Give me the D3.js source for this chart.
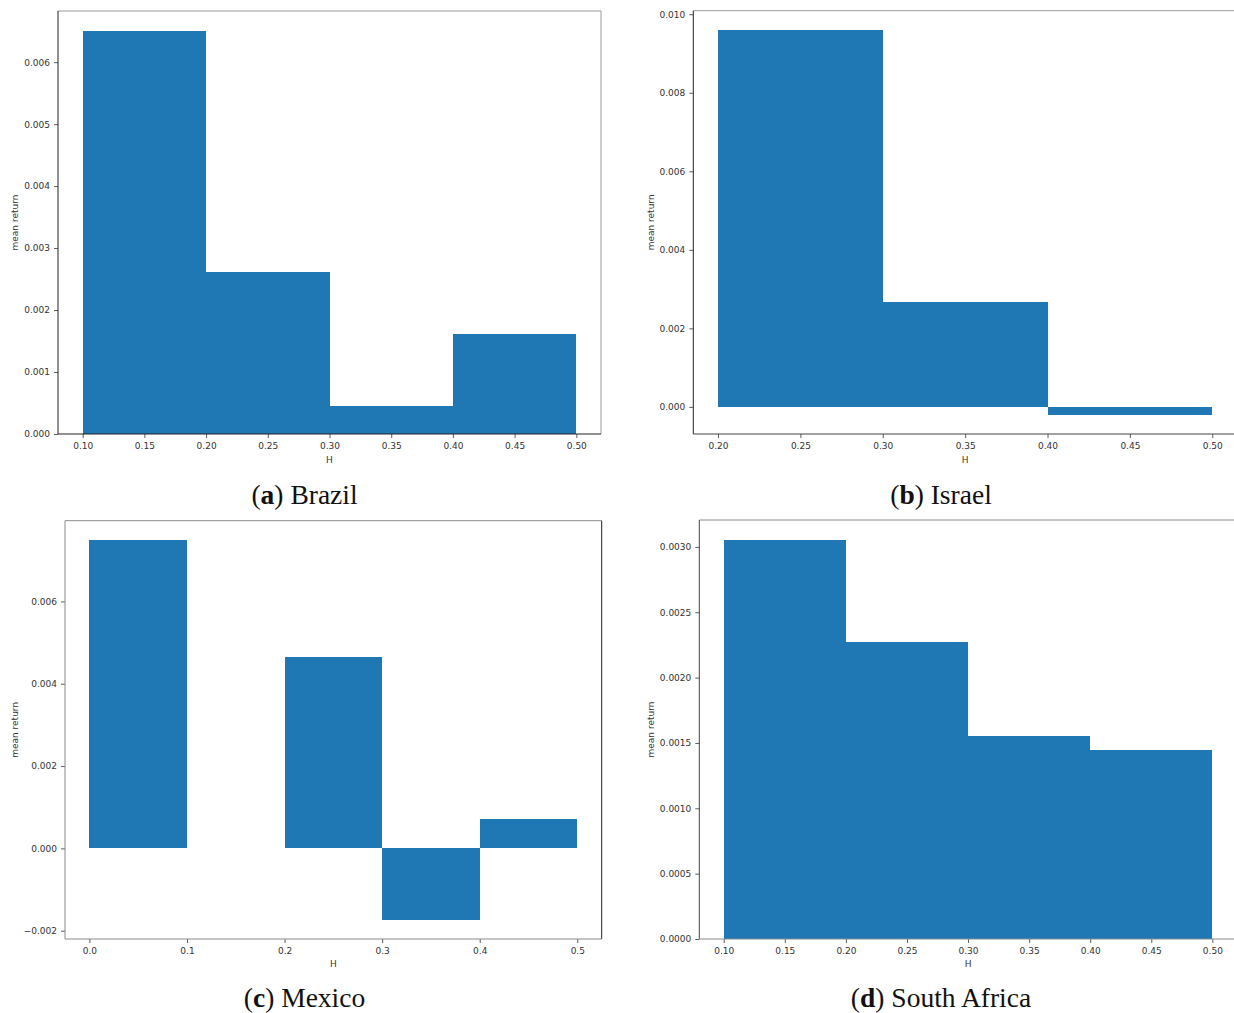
<!DOCTYPE html>
<html>
<head>
<meta charset="utf-8">
<script src="https://cdn.jsdelivr.net/npm/d3@7"></script>
<style>
  html, body { margin: 0; padding: 0; background: #fff; }
  svg { display: block; }
  .tick text { font-family: "DejaVu Sans", sans-serif; font-size: 9px; fill: #333; }
  .axis-label { font-family: "DejaVu Sans", sans-serif; font-size: 9px; fill: #333; }
  .caption { font-family: "Liberation Serif", "Times New Roman", serif; font-size: 27.5px; fill: #111; }
  rect.bar { shape-rendering: crispEdges; }
</style>
</head>
<body>
<svg id="fig" width="1234" height="1013"></svg>
<script>
// Mean return per bin of the Hurst exponent H, one panel per market.
const binWidth = 0.1;

const brazilBins = [0.1, 0.2, 0.3, 0.4];
const brazilReturns = [0.0065, 0.00262, 0.00045, 0.00161];
const brazilXTicks = [0.10, 0.15, 0.20, 0.25, 0.30, 0.35, 0.40, 0.45, 0.50];
const brazilYTicks = [0.000, 0.001, 0.002, 0.003, 0.004, 0.005, 0.006];

const israelBins = [0.2, 0.3, 0.4];
const israelReturns = [0.0096, 0.00266, -0.0002];
const israelXTicks = [0.20, 0.25, 0.30, 0.35, 0.40, 0.45, 0.50];
const israelYTicks = [0.000, 0.002, 0.004, 0.006, 0.008, 0.010];

// the 0.1–0.2 bin holds no observations for Mexico
const mexicoBins = [0.0, 0.1, 0.2, 0.3, 0.4];
const mexicoReturns = [0.0075, null, 0.00464, -0.00174, 0.00071];
const mexicoXTicks = [0.0, 0.1, 0.2, 0.3, 0.4, 0.5];
const mexicoYTicks = [-0.002, 0.000, 0.002, 0.004, 0.006];

const southAfricaBins = [0.1, 0.2, 0.3, 0.4];
const southAfricaReturns = [0.003053, 0.002273, 0.00155, 0.001445];
const southAfricaXTicks = [0.10, 0.15, 0.20, 0.25, 0.30, 0.35, 0.40, 0.45, 0.50];
const southAfricaYTicks = [0.0000, 0.0005, 0.0010, 0.0015, 0.0020, 0.0025, 0.0030];

const panelLetters = ["a", "b", "c", "d"];
const panelNames = ["Brazil", "Israel", "Mexico", "South Africa"];

const xLabel = "H";
const yLabel = "mean return";
const barColor = "#1f77b4";

// Layout of each axes box on the page and the styling of its frame.
const panels = [
  { bins: brazilBins, values: brazilReturns, xTicks: brazilXTicks, yTicks: brazilYTicks,
    xFmt: ".2f", yFmt: ".3f",
    box: { left: 58, top: 11, right: 601, bottom: 434 },
    yLabelX: 18, xLabelY: 463, caption: { x: 304.5, y: 504 },
    spine: { left: "#222", bottom: "#222", top: "#9a9a9a", right: "#9a9a9a" } },
  { bins: israelBins, values: israelReturns, xTicks: israelXTicks, yTicks: israelYTicks,
    xFmt: ".2f", yFmt: ".3f",
    box: { left: 693.3, top: 10.7, right: 1237, bottom: 434 },
    yLabelX: 653.5, xLabelY: 463, caption: { x: 941, y: 504 },
    spine: { left: "#222", bottom: "#444", top: "#9a9a9a", right: "#9a9a9a" } },
  { bins: mexicoBins, values: mexicoReturns, xTicks: mexicoXTicks, yTicks: mexicoYTicks,
    xFmt: ".1f", yFmt: ".3f",
    box: { left: 65, top: 520.7, right: 601.7, bottom: 939 },
    yLabelX: 17.5, xLabelY: 967, caption: { x: 304.5, y: 1007 },
    spine: { left: "#8a8a8a", bottom: "#8a8a8a", top: "#8a8a8a", right: "#222" } },
  { bins: southAfricaBins, values: southAfricaReturns, xTicks: southAfricaXTicks, yTicks: southAfricaYTicks,
    xFmt: ".2f", yFmt: ".4f",
    box: { left: 699.3, top: 520, right: 1236.8, bottom: 939 },
    yLabelX: 654, xLabelY: 967, caption: { x: 941, y: 1007 },
    spine: { left: "#444", bottom: "#8a8a8a", top: "#8a8a8a", right: "#8a8a8a" } }
];

const svg = d3.select("#fig");
const minusFmt = f => v => d3.format(f)(v).replace("-", "\u2212");

panels.forEach((p, i) => {
  const b = p.box;
  // matplotlib-style autoscaling: 5% margins, bars stick to zero
  const xMin = d3.min(p.bins), xMax = d3.max(p.bins) + binWidth;
  const xPad = (xMax - xMin) * 0.05;
  const vals = p.values.filter(v => v != null);
  const vMin = Math.min(0, d3.min(vals)), vMax = Math.max(0, d3.max(vals));
  const vPad = (vMax - vMin) * 0.05;
  const yLo = vMin < 0 ? vMin - vPad : 0;
  const yHi = vMax > 0 ? vMax + vPad : 0;

  const x = d3.scaleLinear().domain([xMin - xPad, xMax + xPad]).range([b.left, b.right]);
  const y = d3.scaleLinear().domain([yLo, yHi]).range([b.bottom, b.top]);

  const g = svg.append("g");

  const bars = p.bins.map((lo, k) => ({ lo, v: p.values[k] })).filter(d => d.v != null);
  g.selectAll("rect.bar").data(bars).join("rect")
    .attr("class", "bar")
    .attr("x", d => x(d.lo))
    .attr("width", d => x(d.lo + binWidth) - x(d.lo))
    .attr("y", d => y(Math.max(0, d.v)))
    .attr("height", d => Math.abs(y(0) - y(d.v)))
    .attr("fill", barColor);

  const xAxis = d3.axisBottom(x).tickValues(p.xTicks).tickFormat(d3.format(p.xFmt))
    .tickSize(4).tickPadding(5).tickSizeOuter(0);
  const yAxis = d3.axisLeft(y).tickValues(p.yTicks).tickFormat(minusFmt(p.yFmt))
    .tickSize(4).tickPadding(4).tickSizeOuter(0);

  const gx = g.append("g").attr("transform", `translate(0,${b.bottom})`).call(xAxis);
  const gy = g.append("g").attr("transform", `translate(${b.left},0)`).call(yAxis);
  [gx, gy].forEach(a => {
    a.select(".domain").remove();
    a.selectAll(".tick line").attr("stroke", "#333").attr("stroke-width", 0.8);
  });

  // frame
  const sides = [
    ["top", b.left, b.top, b.right, b.top],
    ["right", b.right, b.top, b.right, b.bottom],
    ["left", b.left, b.top, b.left, b.bottom],
    ["bottom", b.left, b.bottom, b.right, b.bottom]
  ];
  sides.forEach(([s, x1, y1, x2, y2]) => {
    g.append("line")
      .attr("x1", x1).attr("y1", y1).attr("x2", x2).attr("y2", y2)
      .attr("stroke", p.spine[s]).attr("stroke-width", 1);
  });

  g.append("text").attr("class", "axis-label")
    .attr("x", (b.left + b.right) / 2).attr("y", p.xLabelY)
    .attr("text-anchor", "middle").text(xLabel);

  g.append("text").attr("class", "axis-label")
    .attr("transform", `translate(${p.yLabelX},${(b.top + b.bottom) / 2}) rotate(-90)`)
    .attr("text-anchor", "middle").text(yLabel);

  const cap = g.append("text").attr("class", "caption")
    .attr("x", p.caption.x).attr("y", p.caption.y).attr("text-anchor", "middle");
  cap.append("tspan").text("(");
  cap.append("tspan").attr("font-weight", "bold").text(panelLetters[i]);
  cap.append("tspan").text(") " + panelNames[i]);
});
</script>
</body>
</html>
